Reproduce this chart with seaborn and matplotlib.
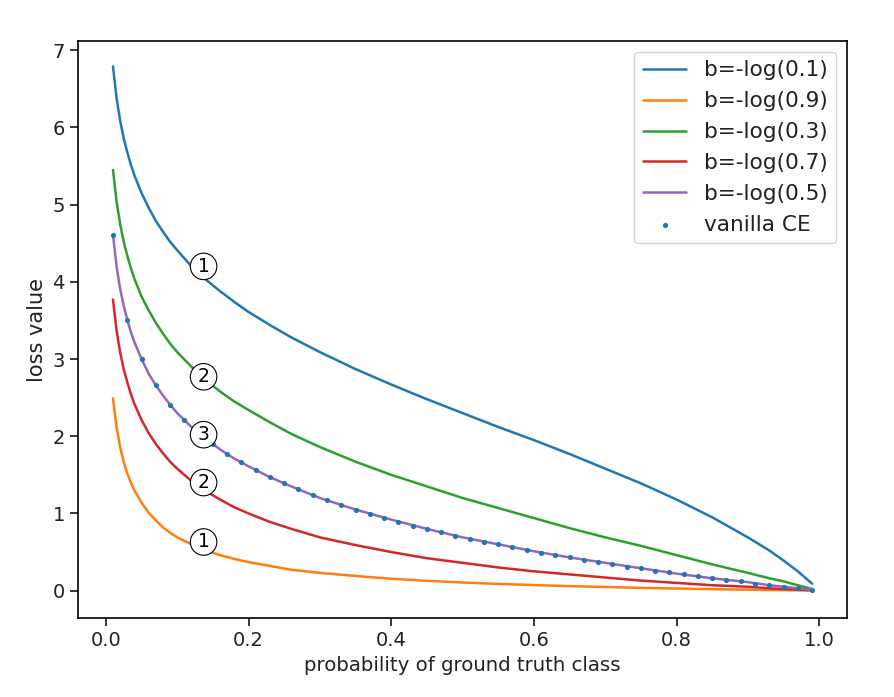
import matplotlib
matplotlib.use("Agg")
import matplotlib.pyplot as plt
import seaborn as sns

# probability grid for the curves
p = [0.01, 0.015, 0.02, 0.025, 0.03, 0.035, 0.04, 0.05, 0.06, 0.07, 0.08, 0.09, 0.10,
     0.12, 0.14, 0.16, 0.18, 0.20, 0.23, 0.26, 0.30, 0.35, 0.40, 0.45, 0.50, 0.55,
     0.60, 0.65, 0.70, 0.75, 0.80, 0.85, 0.90, 0.93, 0.95, 0.97, 0.99]

loss_b01 = [6.79, 6.38, 6.09, 5.86, 5.68, 5.52, 5.38, 5.15, 4.96, 4.79, 4.65, 4.52, 4.41,
            4.20, 4.03, 3.88, 3.74, 3.61, 3.44, 3.28, 3.09, 2.87, 2.67, 2.48, 2.30, 2.12,
            1.95, 1.77, 1.58, 1.39, 1.18, 0.95, 0.69, 0.52, 0.39, 0.25, 0.09]
loss_b09 = [2.49, 2.12, 1.86, 1.67, 1.52, 1.40, 1.30, 1.14, 1.01, 0.91, 0.82, 0.75, 0.69,
            0.60, 0.52, 0.46, 0.41, 0.37, 0.32, 0.27, 0.23, 0.19, 0.154, 0.127, 0.105, 0.087,
            0.072, 0.058, 0.047, 0.036, 0.027, 0.019, 0.012, 0.008, 0.006, 0.004, 0.001]
loss_b03 = [5.45, 5.04, 4.75, 4.52, 4.34, 4.18, 4.04, 3.81, 3.63, 3.47, 3.33, 3.20, 3.09,
            2.90, 2.73, 2.58, 2.45, 2.34, 2.18, 2.03, 1.86, 1.67, 1.50, 1.35, 1.20, 1.07,
            0.94, 0.81, 0.69, 0.58, 0.46, 0.34, 0.23, 0.16, 0.12, 0.07, 0.02]
loss_b07 = [3.77, 3.37, 3.09, 2.87, 2.70, 2.55, 2.42, 2.21, 2.04, 1.90, 1.78, 1.67, 1.58,
            1.42, 1.29, 1.18, 1.08, 1.00, 0.89, 0.80, 0.69, 0.59, 0.50, 0.42, 0.36, 0.30,
            0.25, 0.21, 0.17, 0.13, 0.10, 0.07, 0.05, 0.03, 0.02, 0.013, 0.004]
loss_b05 = [4.61, 4.20, 3.91, 3.69, 3.51, 3.35, 3.22, 3.00, 2.81, 2.66, 2.53, 2.41, 2.30,
            2.12, 1.97, 1.83, 1.71, 1.61, 1.47, 1.35, 1.20, 1.05, 0.92, 0.80, 0.69, 0.60,
            0.51, 0.43, 0.36, 0.29, 0.22, 0.16, 0.11, 0.07, 0.05, 0.03, 0.01]

# vanilla CE sample points
p_ce = [0.01, 0.03, 0.05, 0.07, 0.09, 0.11, 0.13, 0.15, 0.17, 0.19, 0.21, 0.23,
        0.25, 0.27, 0.29, 0.31, 0.33, 0.35, 0.37, 0.39, 0.41, 0.43, 0.45, 0.47,
        0.49, 0.51, 0.53, 0.55, 0.57, 0.59, 0.61, 0.63, 0.65, 0.67, 0.69, 0.71,
        0.73, 0.75, 0.77, 0.79, 0.81, 0.83, 0.85, 0.87, 0.89, 0.91, 0.93, 0.95,
        0.97, 0.99]
loss_ce = [4.61, 3.51, 3.00, 2.66, 2.41, 2.21, 2.04, 1.90, 1.77, 1.66, 1.56, 1.47,
           1.39, 1.31, 1.24, 1.17, 1.11, 1.05, 0.99, 0.94, 0.89, 0.84, 0.80, 0.76,
           0.71, 0.67, 0.63, 0.60, 0.56, 0.53, 0.49, 0.46, 0.43, 0.40, 0.37, 0.34,
           0.31, 0.29, 0.26, 0.24, 0.21, 0.19, 0.16, 0.14, 0.12, 0.09, 0.07, 0.05,
           0.03, 0.01]

series_labels = ["b=-log(0.1)", "b=-log(0.9)", "b=-log(0.3)", "b=-log(0.7)", "b=-log(0.5)"]
series_values = [loss_b01, loss_b09, loss_b03, loss_b07, loss_b05]
series_colors = ["#1f77b4", "#ff7f0e", "#2ca02c", "#d62728", "#9467bd"]

# annotation markers
ann_x = [0.137, 0.137, 0.137, 0.137, 0.137]
ann_y = [4.20, 2.77, 2.02, 1.40, 0.63]
ann_txt = ["1", "2", "3", "2", "1"]

sns.set_style("ticks")
plt.rcParams['font.family'] = ['DejaVu Sans']
plt.rcParams['axes.edgecolor'] = 'black'
plt.rcParams['xtick.color'] = 'black'
plt.rcParams['ytick.color'] = 'black'
plt.rcParams['text.color'] = '#222222'

fig = plt.figure(figsize=(8.95, 6.97), dpi=100)
ax = fig.add_axes([0.0872, 0.1133, 0.8592, 0.8279])

for lab, vals, col in zip(series_labels, series_values, series_colors):
    sns.lineplot(x=p, y=vals, ax=ax, color=col, label=lab, linewidth=1.8)

sns.scatterplot(x=p_ce, y=loss_ce, ax=ax, color="#1f77b4", s=14, linewidth=0,
                label="vanilla CE", zorder=5)

for x, y, t in zip(ann_x, ann_y, ann_txt):
    ax.text(x, y, t, ha='center', va='center', fontsize=13.5, color='black', zorder=10,
            bbox=dict(boxstyle='circle,pad=0.2', fc='white', ec='black', lw=0.8))

ax.set_xlabel("probability of ground truth class", fontsize=14.2, color='#222222')
ax.set_ylabel("loss value", fontsize=15, color='#222222')
ax.tick_params(labelsize=14, length=6, width=1.1, labelcolor='#222222')
for s in ax.spines.values():
    s.set_linewidth(1.2)
    s.set_visible(True)
ax.set_xticks([0.0, 0.2, 0.4, 0.6, 0.8, 1.0])
ax.set_yticks([0, 1, 2, 3, 4, 5, 6, 7])
ax.set_xlim(-0.039, 1.039)
ax.set_ylim(-0.355, 7.12)

leg = ax.legend(loc='upper right', fontsize=15.6, frameon=True, fancybox=True,
                framealpha=0.8, edgecolor='#cccccc')

fig.savefig("out.png", dpi=100, facecolor='white')
